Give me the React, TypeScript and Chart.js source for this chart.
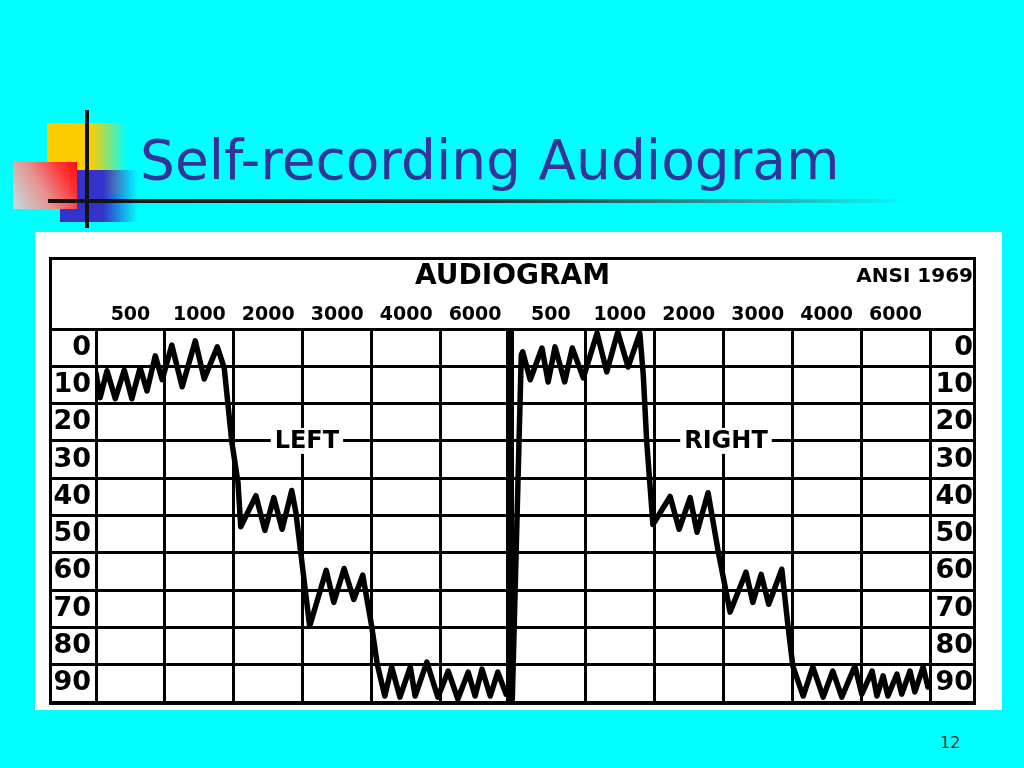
import React, { useEffect, useRef } from 'react';
import { Chart, registerables } from 'chart.js';

Chart.register(...registerables);

// ---- chart data ----
const DB_LABELS = ['0', '10', '20', '30', '40', '50', '60', '70', '80', '90'];
const FREQ_LABELS = ['500', '1000', '2000', '3000', '4000', '6000', '500', '1000', '2000', '3000', '4000', '6000'];
const ROW_EDGES = [-5, 5, 15, 25, 35, 45, 55, 65, 75, 85, 95];
const COLUMN_EDGES = [0, 1, 2, 3, 4, 5, 6, 7.1, 8.1, 9.1, 10.1, 11.1, 12.1];
const COLUMN_CENTERS = [0.5, 1.5, 2.5, 3.5, 4.5, 5.5, 6.6, 7.6, 8.6, 9.6, 10.6, 11.6];
const DIVIDER = 6;

const LEFT_X = [0.0, 0.06, 0.16, 0.28, 0.41, 0.52, 0.64, 0.74, 0.86, 0.96, 1.1, 1.25, 1.44, 1.57, 1.76, 1.86, 1.97, 2.06, 2.1, 2.32, 2.45, 2.58, 2.7, 2.84, 2.9, 3.1, 3.34, 3.45, 3.6, 3.74, 3.87, 4.0, 4.08, 4.19, 4.29, 4.41, 4.56, 4.63, 4.8, 4.96, 5.11, 5.25, 5.4, 5.5, 5.6, 5.72, 5.83, 5.95];
const LEFT_DB = [6.8, 13.4, 6.2, 13.7, 6.0, 13.7, 5.4, 11.6, 2.2, 8.6, -0.7, 10.5, -1.8, 8.4, -0.2, 5.4, 25.2, 36.2, 48.0, 39.7, 49.0, 40.2, 48.7, 38.3, 44.2, 74.7, 59.7, 68.3, 59.2, 67.5, 61.0, 74.7, 84.8, 93.4, 85.6, 93.7, 85.6, 93.4, 84.3, 93.7, 86.7, 94.2, 87.0, 93.4, 86.2, 93.4, 87.0, 92.9];

const RIGHT_X = [6.04, 6.17, 6.19, 6.3, 6.47, 6.56, 6.66, 6.8, 6.91, 7.07, 7.27, 7.41, 7.57, 7.72, 7.89, 7.94, 7.99, 8.08, 8.33, 8.46, 8.62, 8.72, 8.88, 9.03, 9.2, 9.43, 9.53, 9.65, 9.76, 9.95, 10.04, 10.11, 10.26, 10.4, 10.55, 10.69, 10.82, 11.01, 11.11, 11.26, 11.33, 11.42, 11.49, 11.62, 11.69, 11.81, 11.88, 12.0, 12.07];
const RIGHT_DB = [94.2, 2.0, 1.1, 8.6, 0.1, 9.2, -0.2, 9.2, 0.1, 8.1, -3.9, 6.5, -4.2, 5.2, -3.9, 7.3, 25.2, 47.4, 39.9, 48.7, 40.2, 49.5, 38.9, 54.9, 70.9, 60.2, 68.3, 60.8, 68.8, 59.4, 74.7, 85.4, 93.4, 85.6, 93.7, 86.7, 93.7, 85.4, 92.9, 86.7, 93.4, 88.0, 93.4, 87.5, 92.9, 86.7, 92.3, 85.6, 91.0];

const EAR_LABELS = ['LEFT', 'RIGHT'];
const EAR_LABEL_X = [3.06, 9.14];
const EAR_LABEL_DB = [25, 25];

const CHART_TITLE = 'AUDIOGRAM';
const CHART_SUBTITLE = 'ANSI 1969';
const SLIDE_TITLE = 'Self-recording Audiogram';
const PAGE_NUMBER = '12';

const CHART_FONT = '"DejaVu Sans", sans-serif';

const earLabelPlugin = {
  id: 'earLabels',
  afterDatasetsDraw(chart: any) {
    const { ctx } = chart;
    const xs = chart.scales.x;
    const ys = chart.scales.y;
    ctx.save();
    ctx.font = `bold 24px ${CHART_FONT}`;
    ctx.textAlign = 'center';
    ctx.textBaseline = 'middle';
    EAR_LABELS.forEach((label, i) => {
      const px = xs.getPixelForValue(EAR_LABEL_X[i]);
      const py = ys.getPixelForValue(EAR_LABEL_DB[i]);
      const w = ctx.measureText(label).width;
      ctx.fillStyle = '#ffffff';
      ctx.fillRect(px - w / 2 - 4, py - 13, w + 8, 26);
      ctx.fillStyle = '#000000';
      ctx.fillText(label, px, py + 1);
    });
    ctx.restore();
  },
};

function AudiogramChart() {
  const ref = useRef<HTMLCanvasElement | null>(null);
  useEffect(() => {
    if (!ref.current) return;
    const boldFont = (size: number) => ({ family: CHART_FONT, size, weight: 'bold' as const, lineHeight: 1.2 });
    const trace = (label: string, xs: number[], ys: number[]) => ({
      label,
      data: xs.map((x, i) => ({ x, y: ys[i] })),
      borderColor: '#000',
      borderWidth: 5.5,
      pointRadius: 0,
      tension: 0,
      fill: false,
      borderJoinStyle: 'round',
      borderCapStyle: 'round',
      xAxisID: 'x',
      yAxisID: 'y',
    });
    const chart = new Chart(ref.current, {
      type: 'line',
      data: {
        datasets: [trace('Left', LEFT_X, LEFT_DB), trace('Right', RIGHT_X, RIGHT_DB)],
      },
      options: {
        responsive: false,
        animation: false,
        layout: { padding: 0 },
        events: [],
        plugins: {
          legend: { display: false },
          tooltip: { enabled: false },
          title: {
            display: true,
            text: CHART_TITLE,
            color: '#000',
            font: boldFont(28),
            padding: { top: 0, bottom: 0 },
          },
          subtitle: {
            display: true,
            text: CHART_SUBTITLE,
            align: 'end',
            color: '#000',
            font: boldFont(20),
            padding: { top: -28.6, bottom: 4.6 },
          },
        },
        scales: {
          x: {
            type: 'linear',
            position: 'bottom',
            min: 0,
            max: 12.1,
            afterBuildTicks: (s: any) => {
              s.ticks = COLUMN_EDGES.map((v) => ({ value: v }));
            },
            afterFit: (s: any) => {
              s.height = 0;
            },
            ticks: { display: false, autoSkip: false },
            grid: {
              color: '#000',
              lineWidth: (c: any) => (c.tick && c.tick.value === DIVIDER ? 8 : 3),
              drawTicks: false,
            },
            border: { display: false },
          },
          x2: {
            type: 'linear',
            position: 'top',
            min: 0,
            max: 12.1,
            afterBuildTicks: (s: any) => {
              s.ticks = COLUMN_CENTERS.map((v) => ({ value: v }));
            },
            afterFit: (s: any) => {
              s.height = 35.4;
            },
            ticks: {
              autoSkip: false,
              maxRotation: 0,
              padding: 3,
              color: '#000',
              font: boldFont(19),
              callback: (_v: any, i: number) => FREQ_LABELS[i] ?? '',
            },
            grid: { display: false, drawTicks: false },
            border: { display: false },
          },
          y: {
            type: 'linear',
            position: 'left',
            min: -5,
            max: 95,
            reverse: true,
            afterBuildTicks: (s: any) => {
              s.ticks = ROW_EDGES.map((v) => ({ value: v }));
            },
            afterFit: (s: any) => {
              s.width = 44;
            },
            ticks: {
              autoSkip: false,
              labelOffset: 18.65,
              padding: -39,
              color: '#000',
              font: boldFont(27),
              callback: (_v: any, i: number) => DB_LABELS[i] ?? '',
            },
            grid: {
              color: '#000',
              lineWidth: 3,
              drawTicks: true,
              tickLength: 44,
            },
            border: { display: false },
          },
          y2: {
            type: 'linear',
            position: 'right',
            min: -5,
            max: 95,
            reverse: true,
            afterBuildTicks: (s: any) => {
              s.ticks = ROW_EDGES.map((v) => ({ value: v }));
            },
            afterFit: (s: any) => {
              s.width = 43;
            },
            ticks: {
              autoSkip: false,
              labelOffset: 18.65,
              padding: -30,
              crossAlign: 'far',
              color: '#000',
              font: boldFont(27),
              callback: (_v: any, i: number) => DB_LABELS[i] ?? '',
            },
            grid: {
              color: '#000',
              lineWidth: 3,
              drawOnChartArea: false,
              drawTicks: true,
              tickLength: 43,
            },
            border: { display: false },
          },
        },
      } as any,
      plugins: [earLabelPlugin],
    });
    return () => chart.destroy();
  }, []);

  return (
    <div
      style={{
        position: 'absolute',
        left: 49,
        top: 257,
        width: 921,
        height: 442,
        border: '3px solid #000',
        background: '#fff',
      }}
    >
      <canvas ref={ref} width={921} height={442} style={{ display: 'block' }} />
    </div>
  );
}

export default function App() {
  return (
    <div
      style={{
        position: 'absolute',
        left: 0,
        top: 0,
        width: 1024,
        height: 768,
        overflow: 'hidden',
        background: '#00ffff',
        fontFamily: CHART_FONT,
      }}
    >
      {/* decorative squares */}
      <div
        style={{
          position: 'absolute',
          left: 47,
          top: 123,
          width: 80,
          height: 70,
          background: 'linear-gradient(to right, #ffcc00 0%, #ffcc00 55%, rgba(0,255,255,0) 100%)',
        }}
      />
      <div
        style={{
          position: 'absolute',
          left: 60,
          top: 170,
          width: 78,
          height: 52,
          background: 'linear-gradient(to right, #3333cc 0%, #3333cc 55%, rgba(0,255,255,0) 100%)',
        }}
      />
      <div
        style={{
          position: 'absolute',
          left: 13,
          top: 162,
          width: 64,
          height: 47,
          background: 'linear-gradient(240deg, #ff1010 0%, #ff3030 20%, #e89090 55%, #c0e0e0 100%)',
        }}
      />
      <div style={{ position: 'absolute', left: 85, top: 110, width: 4, height: 118, background: '#111' }} />
      <div
        style={{
          position: 'absolute',
          left: 48,
          top: 199,
          width: 860,
          height: 4,
          background: 'linear-gradient(to right, #111 0%, #1a3030 50%, #30a0a0 82%, #00ffff 100%)',
        }}
      />
      <div
        style={{
          position: 'absolute',
          left: 140,
          top: 133,
          fontSize: 55,
          lineHeight: '55px',
          color: '#333399',
          whiteSpace: 'nowrap',
        }}
      >
        {SLIDE_TITLE}
      </div>
      {/* white panel */}
      <div style={{ position: 'absolute', left: 35, top: 232, width: 967, height: 478, background: '#fff' }} />
      <AudiogramChart />
      <div
        style={{
          position: 'absolute',
          left: 940,
          top: 733,
          fontSize: 16,
          lineHeight: '20px',
          color: '#333',
        }}
      >
        {PAGE_NUMBER}
      </div>
    </div>
  );
}
